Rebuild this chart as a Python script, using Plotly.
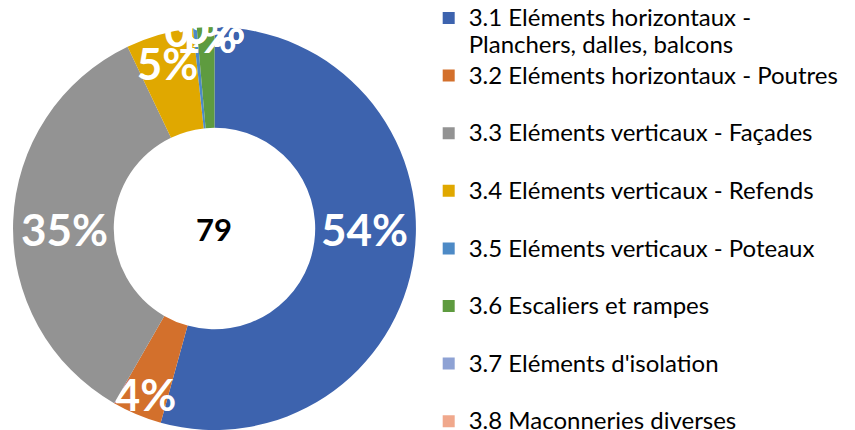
import plotly.graph_objects as go

labels = [
    "3.1 Eléments horizontaux - Planchers, dalles, balcons",
    "3.2 Eléments horizontaux - Poutres",
    "3.3 Eléments verticaux - Façades",
    "3.4 Eléments verticaux - Refends",
    "3.5 Eléments verticaux - Poteaux",
    "3.6 Escaliers et rampes",
    "3.7 Eléments d'isolation",
    "3.8 Maconneries diverses",
]
values = [54.3, 4.0, 34.6, 5.4, 0.3, 1.4, 0.0, 0.0]
colors = ["#3D63AE", "#D3702C", "#939393", "#E0A800", "#4D8AC6", "#5E9B3F", "#8EA2D4", "#F0A88C"]
center_text = "79"

SPAN = '<span style="font-size:24px">{}</span>'
legend_names = []
for i, lab in enumerate(labels):
    if i == 0:
        legend_names.append(SPAN.format("3.1 Eléments horizontaux -") + "<br>" +
                            SPAN.format("Planchers, dalles, balcons"))
    elif i == len(labels) - 1:
        legend_names.append(SPAN.format(lab))
    else:
        legend_names.append(SPAN.format(lab) + "<br> ")

dom_x = [0.0146, 0.4871]
dom_y = [0.0, 0.937]

fig = go.Figure(go.Pie(
    labels=legend_names,
    values=values,
    hole=0.5,
    sort=False,
    direction="clockwise",
    rotation=0,
    marker=dict(colors=colors, line=dict(width=0)),
    texttemplate="%{percent:.0%}",
    textposition="inside",
    insidetextorientation="horizontal",
    textfont=dict(family="Lato", size=44, color="white", weight="bold"),
    domain=dict(x=dom_x, y=dom_y),
    showlegend=True,
))

fig.add_annotation(text="<b>" + center_text + "</b>",
                   x=sum(dom_x) / 2, y=sum(dom_y) / 2, xref="paper", yref="paper",
                   xanchor="center", yanchor="middle",
                   showarrow=False, font=dict(family="Lato", size=31, color="black"))

fig.update_layout(
    width=855, height=430,
    margin=dict(l=0, r=0, t=0, b=0, autoexpand=False),
    paper_bgcolor="white",
    plot_bgcolor="white",
    uniformtext=dict(minsize=44, mode="show"),
    legend=dict(x=0.5014, y=1.005, xanchor="left", yanchor="top",
                font=dict(family="Lato", size=21, color="#000000"),
                valign="top", itemwidth=30, tracegroupgap=0, maxheight=800),
)

fig.write_html("out.html", config={"displayModeBar": False},
               post_script="document.body.style.margin='0';")
